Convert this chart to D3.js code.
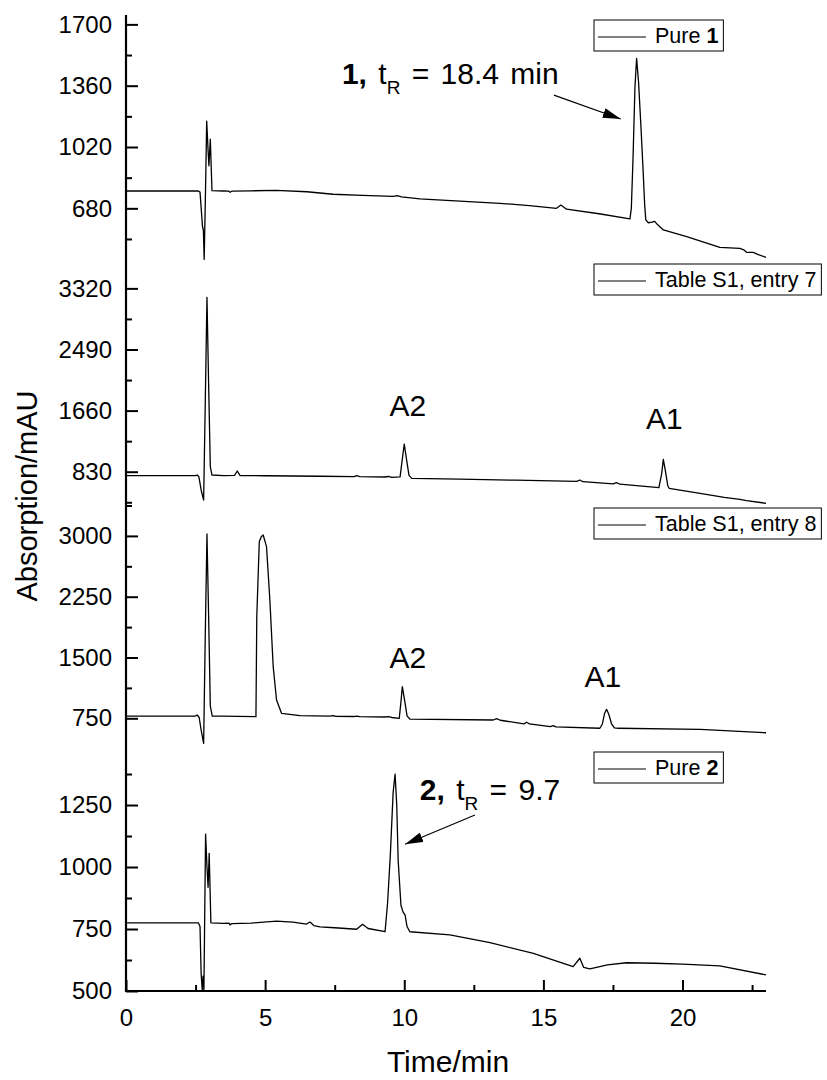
<!DOCTYPE html>
<html>
<head>
<meta charset="utf-8">
<script src="https://cdn.jsdelivr.net/npm/d3@7"></script>
<style>
  body { margin: 0; background: #fff; }
  svg { font-family: "Liberation Sans", Arial, sans-serif; }
</style>
</head>
<body>
<div id="chart"></div>
<script>
// traces (time in min, absorption in mAU)
const timePure1 = [0, 2.6, 2.66, 2.75, 2.78, 2.81, 2.86, 2.90, 2.95, 2.98, 3.03, 3.09, 3.5, 3.7, 3.74, 3.8, 4.5, 5.4, 6.5, 7.44, 8.5, 9.6, 9.75, 9.9, 10.56, 12, 13.44, 14.5, 15.47, 15.63, 15.83, 17, 18.11, 18.16, 18.22, 18.29, 18.35, 18.42, 18.5, 18.58, 18.64, 18.68, 18.77, 18.9, 19.0, 19.1, 19.31, 20.15, 21.34, 22.06, 22.2, 22.3, 22.54, 22.7, 23];
const absPure1 = [776, 776, 770, 578, 560, 397, 800, 1164, 1000, 916, 1063, 778, 776, 775, 769, 775, 777, 780, 772, 758, 752, 746, 750, 744, 732, 720, 708, 695, 680, 698, 675, 650, 621, 680, 950, 1350, 1512, 1380, 1150, 900, 700, 616, 600, 603, 608, 590, 560, 523, 464, 458, 450, 436, 436, 425, 408];

const timeEntry7 = [0, 2.5, 2.56, 2.62, 2.70, 2.79, 2.85, 2.91, 2.97, 3.03, 3.09, 3.5, 3.9, 4.0, 4.1, 5, 6, 7, 8.2, 8.29, 8.4, 9.3, 9.43, 9.55, 9.85, 9.93, 10.0, 10.08, 10.17, 10.27, 12, 14, 16.2, 16.31, 16.42, 17.5, 17.63, 17.75, 19.15, 19.25, 19.31, 19.38, 19.47, 19.52, 20.63, 21.5, 22.06, 22.3, 23];
const absEntry7 = [776, 776, 785, 760, 582, 446, 1800, 3198, 2000, 900, 785, 778, 780, 840, 778, 775, 772, 768, 763, 776, 762, 758, 765, 752, 760, 1000, 1206, 1000, 780, 740, 728, 715, 698, 717, 694, 664, 681, 660, 615, 800, 998, 850, 640, 605, 537, 480, 455, 436, 401];

const timeEntry8 = [0, 2.5, 2.56, 2.63, 2.70, 2.79, 2.85, 2.91, 2.97, 3.03, 3.10, 3.5, 4.0, 4.67, 4.70, 4.79, 4.86, 4.93, 5.05, 5.17, 5.29, 5.41, 5.59, 6.25, 7.3, 7.44, 7.55, 8.2, 8.29, 8.4, 9.3, 9.43, 9.55, 9.82, 9.88, 9.93, 10.0, 10.1, 10.2, 13.2, 13.32, 13.45, 14.3, 14.4, 14.5, 15.25, 15.35, 15.45, 17.03, 17.12, 17.2, 17.27, 17.35, 17.45, 17.55, 17.69, 20.63, 23];
const absEntry8 = [778, 778, 791, 760, 606, 442, 1800, 3024, 2000, 900, 778, 776, 775, 770, 2000, 2929, 2990, 3011, 2867, 2209, 1387, 976, 812, 782, 776, 783, 774, 772, 778, 770, 766, 770, 760, 750, 950, 1140, 1000, 780, 741, 729, 745, 726, 682, 701, 680, 648, 660, 645, 627, 680, 810, 861, 800, 680, 632, 627, 614, 572];

const timePure2 = [0, 2.6, 2.66, 2.70, 2.74, 2.77, 2.80, 2.86, 2.91, 2.95, 2.99, 3.05, 3.5, 3.7, 3.74, 3.8, 4.5, 5.41, 6.0, 6.49, 6.61, 6.75, 6.97, 7.5, 8.29, 8.5, 8.7, 9.31, 9.4, 9.5, 9.6, 9.67, 9.73, 9.78, 9.88, 9.95, 10.03, 10.1, 10.2, 11.64, 13.08, 14.64, 16.07, 16.31, 16.45, 16.67, 17.3, 17.99, 19, 20, 21.34, 23];
const absPure2 = [775, 775, 760, 571, 504, 560, 504, 1133, 1000, 918, 1055, 775, 773, 774, 766, 772, 774, 782, 778, 770, 778, 764, 759, 755, 749, 769, 752, 739, 854, 1050, 1300, 1375, 1250, 1028, 847, 820, 806, 760, 739, 726, 695, 652, 598, 632, 595, 589, 605, 614, 612, 608, 601, 565];

// per-panel y axes
const yDomains = [[399, 1752], [405, 3719], [396, 3406], [500, 1484]];
const yTicks = [[680, 1020, 1360, 1700], [830, 1660, 2490, 3320], [750, 1500, 2250, 3000], [500, 750, 1000, 1250]];
const yMinorTicks = [[510, 850, 1190, 1530], [415, 1245, 2075, 2905], [1125, 1875, 2625, 3375], [625, 875, 1125, 1375]];
const xTicks = [0, 5, 10, 15, 20];
const xMinorTicks = [2.5, 7.5, 12.5, 17.5, 22.5];

const legendNames = ['Pure ', 'Table S1, entry 7', 'Table S1, entry 8', 'Pure '];
const legendBold = ['1', '', '', '2'];

// peak labels
const peakLabels = ['A2', 'A1', 'A2', 'A1'];
const peakLabelPanel = [1, 1, 2, 2];
const peakLabelAt = [[10.13, 1586], [19.35, 1406], [10.13, 1371], [17.14, 1140]];

// retention time notes + arrows
const noteCompound = ['1,', '2,'];
const noteTime = [' = 18.4 min', ' = 9.7'];
const notePanel = [0, 3];
const noteAt = [[7.76, 1368], [10.56, 1270]];
const arrowFrom = [[15.38, 1308], [12.54, 1210]];
const arrowTo = [[17.78, 1175], [10.03, 1092]];

const traces = [
  d3.zip(timePure1, absPure1),
  d3.zip(timeEntry7, absEntry7),
  d3.zip(timeEntry8, absEntry8),
  d3.zip(timePure2, absPure2)
];

// layout
const width = 827, height = 1080;
const plotLeft = 126, plotRight = 766;
const plotTop = 15, panelH = 244;
const plotBottom = plotTop + 4 * panelH;

let svg = d3.select('#chart').append('svg')
  .attr('width', width)
  .attr('height', height);

svg.append('defs').append('marker')
  .attr('id', 'arrow')
  .attr('markerUnits', 'userSpaceOnUse')
  .attr('markerWidth', 18)
  .attr('markerHeight', 10)
  .attr('refX', 18)
  .attr('refY', 5)
  .attr('orient', 'auto')
  .append('path')
  .attr('d', 'M0,0L18,5L0,10Z')
  .attr('fill', '#000');

const xScale = d3.scaleLinear().domain([0, 23]).range([plotLeft, plotRight]);

const yScales = yDomains.map((dom, i) => {
  const top = plotTop + i * panelH;
  return d3.scaleLinear().domain(dom).range([top + panelH, top]);
});

function styleAxis(g, fontSize) {
  g.select('.domain').remove();
  g.attr('font-family', null).attr('font-size', fontSize);
  g.selectAll('.tick line').attr('stroke', '#000').attr('stroke-width', 2);
  g.selectAll('.tick text').attr('fill', '#000');
}

yScales.forEach((y, i) => {
  svg.append('g')
    .attr('transform', `translate(${plotLeft},0)`)
    .call(d3.axisLeft(y).tickValues(yTicks[i]).tickFormat(d3.format('d'))
      .tickSizeInner(-12).tickSizeOuter(0).tickPadding(14))
    .call(g => styleAxis(g, 24));
  svg.append('g')
    .attr('transform', `translate(${plotLeft},0)`)
    .call(d3.axisLeft(y).tickValues(yMinorTicks[i]).tickSizeInner(-6).tickSizeOuter(0).tickFormat(''))
    .call(g => styleAxis(g, 24));
});

// x axis
svg.append('g')
  .attr('transform', `translate(0,${plotBottom})`)
  .call(d3.axisBottom(xScale).tickValues(xTicks).tickFormat(d3.format('d'))
    .tickSizeInner(-11).tickSizeOuter(0).tickPadding(18))
  .call(g => styleAxis(g, 24));
svg.append('g')
  .attr('transform', `translate(0,${plotBottom})`)
  .call(d3.axisBottom(xScale).tickValues(xMinorTicks).tickSizeInner(-6).tickSizeOuter(0).tickFormat(''))
  .call(g => styleAxis(g, 24));

// axis lines
svg.append('line')
  .attr('x1', plotLeft).attr('x2', plotLeft)
  .attr('y1', plotTop).attr('y2', plotBottom + 1)
  .attr('stroke', '#000').attr('stroke-width', 2.2);
svg.append('line')
  .attr('x1', plotLeft - 1).attr('x2', plotRight)
  .attr('y1', plotBottom).attr('y2', plotBottom)
  .attr('stroke', '#000').attr('stroke-width', 2.2);

// traces
traces.forEach((pts, i) => {
  const line = d3.line()
    .x(d => xScale(d[0]))
    .y(d => yScales[i](d[1]));
  svg.append('path')
    .datum(pts)
    .attr('d', line)
    .attr('fill', 'none')
    .attr('stroke', '#000')
    .attr('stroke-width', 1.3)
    .attr('stroke-linejoin', 'round');
});

// legends
legendNames.forEach((name, i) => {
  const top = plotTop + i * panelH;
  const lg = svg.append('g');
  const box = lg.append('rect')
    .attr('x', 594).attr('y', top + 5)
    .attr('height', 31)
    .attr('fill', '#fff').attr('stroke', '#000').attr('stroke-width', 1);
  lg.append('line')
    .attr('x1', 598).attr('x2', 646)
    .attr('y1', top + 22).attr('y2', top + 22)
    .attr('stroke', '#000').attr('stroke-width', 1);
  const txt = lg.append('text')
    .attr('x', 655).attr('y', top + 27.5)
    .attr('font-size', 21.5);
  txt.append('tspan').text(name);
  if (legendBold[i]) txt.append('tspan').attr('font-weight', 'bold').text(legendBold[i]);
  box.attr('width', 655 - 594 + txt.node().getComputedTextLength() + 5);
});

// peak labels
peakLabels.forEach((lab, i) => {
  const y = yScales[peakLabelPanel[i]];
  svg.append('text')
    .attr('x', xScale(peakLabelAt[i][0]))
    .attr('y', y(peakLabelAt[i][1]))
    .attr('text-anchor', 'middle')
    .attr('font-size', 30)
    .text(lab);
});

// retention notes and arrows
noteCompound.forEach((c, i) => {
  const y = yScales[notePanel[i]];
  const t = svg.append('text')
    .attr('x', xScale(noteAt[i][0]))
    .attr('y', y(noteAt[i][1]))
    .attr('font-size', 30)
    .attr('word-spacing', 3);
  t.append('tspan').attr('font-weight', 'bold').text(c);
  t.append('tspan').text(' t');
  t.append('tspan').attr('font-size', 19).attr('dy', 10).text('R');
  t.append('tspan').attr('dy', -10).text(noteTime[i]);

  svg.append('line')
    .attr('x1', xScale(arrowFrom[i][0])).attr('y1', y(arrowFrom[i][1]))
    .attr('x2', xScale(arrowTo[i][0])).attr('y2', y(arrowTo[i][1]))
    .attr('stroke', '#000').attr('stroke-width', 1.2)
    .attr('marker-end', 'url(#arrow)');
});

// axis titles
svg.append('text')
  .attr('x', (plotLeft + plotRight) / 2 + 2)
  .attr('y', 1072)
  .attr('text-anchor', 'middle')
  .attr('font-size', 30)
  .text('Time/min');

svg.append('text')
  .attr('transform', 'translate(37,496) rotate(-90)')
  .attr('text-anchor', 'middle')
  .attr('font-size', 29)
  .text('Absorption/mAU');
</script>
</body>
</html>
